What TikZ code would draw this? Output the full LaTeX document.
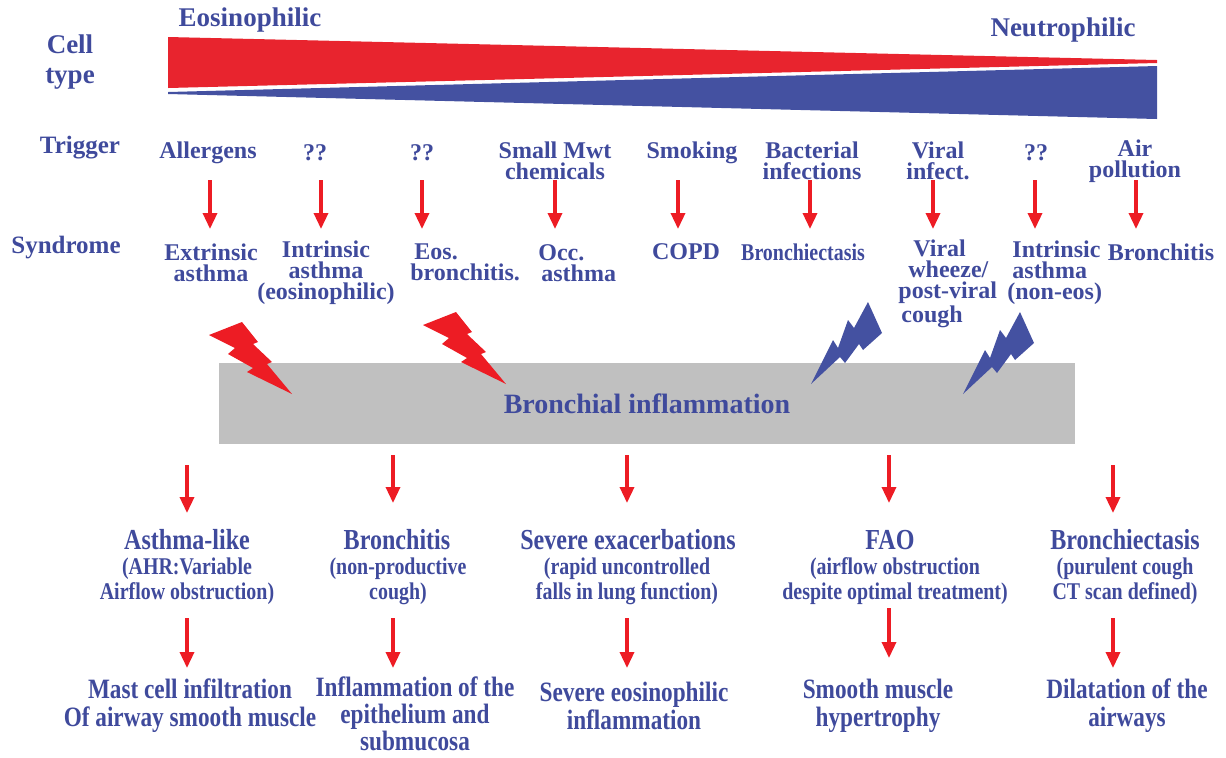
\documentclass[tikz,border=0pt]{standalone}
\usepackage{fontspec}
\setmainfont{Liberation Serif}
\newfontfamily\narrowfont[FakeStretch=0.83]{Liberation Serif}
\usetikzlibrary{arrows.meta}

\definecolor{txtblue}{RGB}{63,74,156}
\definecolor{wedgeblue}{RGB}{68,81,161}
\definecolor{wedgered}{RGB}{232,36,46}
\definecolor{boltred}{RGB}{237,28,36}
\definecolor{boxgray}{RGB}{192,192,192}

\begin{document}
\begin{tikzpicture}[x=0.5pt, y=-0.5pt,
    lbl/.style={text=txtblue, inner sep=0pt, align=center,
      font=\fontsize{12}{10.5}\selectfont\bfseries},
    hdr/.style={text=txtblue, inner sep=0pt, align=center,
      font=\fontsize{13.5}{15}\selectfont\bfseries},
    rowlbl/.style={text=txtblue, inner sep=0pt,
      font=\fontsize{12.5}{14}\selectfont\bfseries},
    nhead/.style={text=txtblue, inner sep=0pt, align=center,
      font=\narrowfont\fontsize{14.5}{15}\selectfont\bfseries},
    nsub/.style={text=txtblue, inner sep=0pt, align=center,
      font=\narrowfont\fontsize{12}{12.5}\selectfont\bfseries},
    nfoot/.style={text=txtblue, inner sep=0pt, align=center,
      font=\narrowfont\fontsize{14}{14}\selectfont\bfseries},
    arr/.style={draw=boltred, line width=1.7pt,
      -{Triangle[width=7pt,length=8pt]}},
  ]
  \useasboundingbox (0,0) rectangle (1226,757);

  % Cell type wedges
  \fill[wedgered] (168,37) -- (1157,60) -- (1157,63) -- (168,88) -- cycle;
  \fill[wedgeblue] (168,92) -- (1157,66) -- (1157,119) -- (168,94) -- cycle;

  \node[hdr] (eos) at (250,20) {Eosinophilic};
  \node[hdr] (neu) at (1063,30) {Neutrophilic};
  \node[hdr] (cell) at (70,62) {Cell\\type};

  \node[rowlbl] (trig) at (80,148) {Trigger};
  \node[rowlbl] (synd) at (66,248) {Syndrome};

  % Triggers
  \node[lbl] (t1) at (208,153) {Allergens};
  \node[lbl] (t2) at (315,153) {??};
  \node[lbl] (t3) at (422,153) {??};
  \node[lbl] (t4) at (555,161) {Small Mwt\\chemicals};
  \node[lbl] (t5) at (692,153) {Smoking};
  \node[lbl] (t6) at (812,161) {Bacterial\\infections};
  \node[lbl] (t7) at (938,161) {Viral\\infect.};
  \node[lbl] (t8) at (1036,153) {??};
  \node[lbl] (t9) at (1135,161) {Air\\pollution};

  % Syndromes
  \node[lbl] (s1) at (211,262.5) {Extrinsic\\asthma};
  \node[lbl] (s2) at (326,273) {Intrinsic\\asthma\\(eosinophilic)};
  \node[lbl, align=left, anchor=west] (s3) at (410,262.5)
    {\hspace*{2pt}Eos.\\bronchitis.};
  \node[lbl, align=left, anchor=west] (s4) at (538,263)
    {Occ.\\\hspace*{1.5pt}asthma};
  \node[lbl] (s5) at (686,252) {COPD};
  \node[lbl, font=\narrowfont\fontsize{12}{10.5}\selectfont\bfseries] (s6)
    at (803,252) {Bronchiectasis};
  \node[lbl, align=left, anchor=west] (s7) at (898,283.5)
    {\hspace*{7.5pt}Viral\\\hspace*{5pt}wheeze/\\post-viral\\\hspace*{1.5pt}cough};
  \node[lbl, align=left, anchor=west] (s8) at (1007,273)
    {\hspace*{2.5pt}Intrinsic\\\hspace*{2.5pt}asthma\\(non-eos)};
  \node[lbl] (s9) at (1161,252) {Bronchitis};

  % Trigger -> syndrome
  \foreach \x [count=\i] in {210,321,422,555,678,810,933,1035,1136} {
    \coordinate (a\i) at (\x,180);
    \coordinate (b\i) at (\x,229);
    \draw[arr] (a\i) -- (b\i);
  }

  % Bronchial inflammation
  \node[fill=boxgray, inner sep=0pt, minimum width=428pt, minimum height=40.5pt,
    text=txtblue, font=\fontsize{14}{16}\selectfont\bfseries]
    (infl) at (647,403.5) {Bronchial inflammation};

  % Bolts
  \foreach \dx/\dy in {0/0,214/-10}
    \fill[boltred, shift={(\dx,\dy)}] (209,335) -- (242,322) -- (258,342)
      -- (253,344) -- (272,362) -- (267,364) -- (292,394) -- (247,372)
      -- (253,368) -- (228,354) -- (235,348) -- cycle;
  \foreach \dx/\dy in {0/0,152/10}
    \fill[wedgeblue, shift={(\dx,\dy)}] (811,384) -- (833,340) -- (838,348)
      -- (848,320) -- (854,328) -- (868,302) -- (882,333) -- (863,350)
      -- (859,344) -- (845,363) -- (840,357) -- cycle;

  % Outcomes
  \node[nhead] (h1) at (187,540) {Asthma-like};
  \node[nhead] (h2) at (397,540) {Bronchitis};
  \node[nhead] (h3) at (628,540) {Severe exacerbations};
  \node[nhead] (h4) at (890,540) {FAO};
  \node[nhead] (h5) at (1125,540) {Bronchiectasis};

  \node[nsub] (d1) at (187,581) {(AHR:Variable\\Airflow obstruction)};
  \node[nsub] (d2) at (398,581) {(non-productive\\cough)};
  \node[nsub] (d3) at (627,581) {(rapid uncontrolled\\falls in lung function)};
  \node[nsub] (d4) at (895,581) {(airflow obstruction\\despite optimal treatment)};
  \node[nsub] (d5) at (1125,581) {(purulent cough\\CT scan defined)};

  \node[nfoot] (f1) at (190,706) {Mast cell infiltration\\Of airway smooth muscle};
  \node[nfoot, font=\narrowfont\fontsize{14}{13.5}\selectfont\bfseries] (f2)
    at (415,714) {Inflammation of the\\epithelium and\\submucosa};
  \node[nfoot] (f3) at (634,706) {Severe eosinophilic\\inflammation};
  \node[nfoot] (f4) at (878,706) {Smooth muscle\\hypertrophy};
  \node[nfoot] (f5) at (1127,706) {Dilatation of the\\airways};

  % Inflammation -> outcome -> pathology
  \foreach \x/\ya/\yb/\yc/\yd [count=\i] in
      {187/465/513/618/668, 393/455/503/618/668, 627/455/503/618/668,
       889/455/503/608/658, 1113/465/513/618/668} {
    \coordinate (p\i) at (\x,\ya);
    \coordinate (q\i) at (\x,\yb);
    \coordinate (r\i) at (\x,\yc);
    \coordinate (u\i) at (\x,\yd);
    \draw[arr] (p\i) -- (q\i);
    \draw[arr] (r\i) -- (u\i);
  }
\end{tikzpicture}
\end{document}
